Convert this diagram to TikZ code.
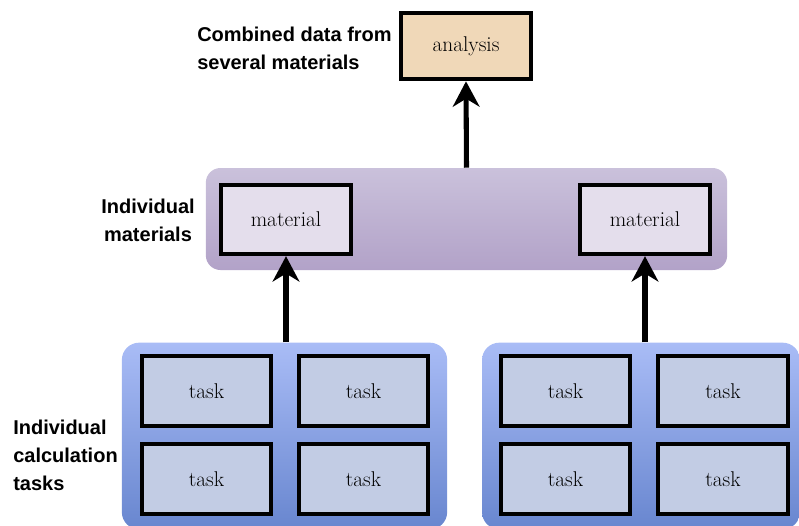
\documentclass[tikz,border=0pt]{standalone}
\usepackage{fontspec}
\usepackage{tikz}
\usetikzlibrary{arrows.meta, positioning, calc}
\newfontfamily\labelfont{Liberation Sans}
\definecolor{analysisfill}{HTML}{F0D8B8}
\definecolor{matfill}{HTML}{E4DEEC}
\definecolor{groupA}{HTML}{CAC1DB}
\definecolor{groupB}{HTML}{B2A2C8}
\definecolor{taskfill}{HTML}{C2CCE4}
\definecolor{poolA}{HTML}{A9BCF6}
\definecolor{poolB}{HTML}{6886CF}
\tikzstyle{itembox} = [draw, line width=3pt, rectangle, text centered, font=\fontsize{16}{18}\selectfont]
\tikzstyle{taskbox} = [itembox, fill=taskfill, minimum width=97pt, minimum height=52pt]
\tikzstyle{matbox} = [itembox, fill=matfill, minimum width=97.5pt, minimum height=52pt]
\tikzstyle{pool} = [rectangle, rounded corners=13pt, top color=poolA, bottom color=poolB, minimum height=140pt]
\tikzstyle{sidelabel} = [font=\labelfont\bfseries\fontsize{15}{21}\selectfont, inner sep=0pt]
\tikzstyle{uparrow} = [line width=3.8pt, -{Stealth[length=19pt, width=20pt, inset=6pt]}]

\begin{document}
\begin{tikzpicture}[x=0.75pt, y=-0.75pt]
		\clip (0,0) rectangle (799,525);
		% top level
		\node (analysis) [itembox, fill=analysisfill, minimum width=97.5pt, minimum height=50pt] at (466,46) {analysis};
		\node (combined) [sidelabel, anchor=west, align=left] at (197,48) {Combined data from\\several materials};
		% materials
		\node (materials) [rectangle, rounded corners=11pt, top color=groupA, bottom color=groupB, minimum width=391pt, minimum height=76.5pt] at (466.5,219) {};
		\node (matA) [matbox] at (286,219.5) {material};
		\node (matB) [matbox] at (645,219.5) {material};
		\node (indmat) [sidelabel, align=center] at (148,220) {Individual\\materials};
		% calculation tasks
		\node (poolA) [pool, minimum width=244pt] at (284.5,436) {};
		\node (poolB) [pool, minimum width=238.5pt] at (641,436) {};
		\node (taskA1) [taskbox] at (206.5,391) {task};
		\node (taskA2) [taskbox] at (363.5,391) {task};
		\node (taskA3) [taskbox] at (206.5,479) {task};
		\node (taskA4) [taskbox] at (363.5,479) {task};
		\node (taskB1) [taskbox] at (565.5,391) {task};
		\node (taskB2) [taskbox] at (723,391) {task};
		\node (taskB3) [taskbox] at (565.5,479) {task};
		\node (taskB4) [taskbox] at (723,479) {task};
		\node (indtask) [sidelabel, anchor=west, align=left] at (13,455) {Individual\\calculation\\tasks};
		% arrows
		\draw [uparrow] (matA |- poolA.north) -- (matA.south);
		\draw [uparrow] (matB |- poolB.north) -- (matB.south);
		\draw [uparrow] (materials.north) -- (analysis.south);
	\end{tikzpicture}
\end{document}
